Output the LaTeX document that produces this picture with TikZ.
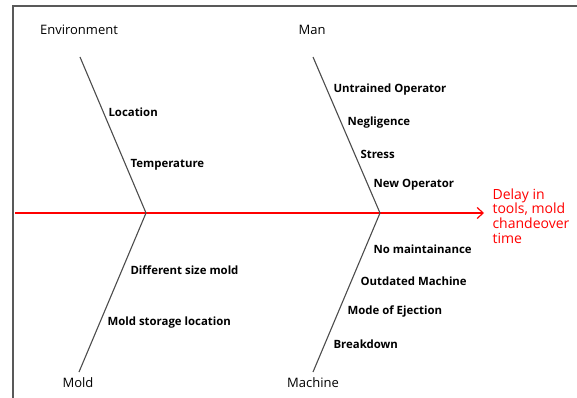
\documentclass[tikz,border=0pt]{standalone}
\usepackage{fontspec}
\setmainfont{Open Sans}
\usetikzlibrary{arrows.meta}

\begin{document}
\begin{tikzpicture}[x=1pt, y=-1pt, line width=1.1pt,
  bone/.style={draw=black!70, line width=1.1pt},
  spine/.style={draw=red, line width=1.2pt, -{Straight Barb[length=6pt, width=11pt]}},
  category/.style={font=\fontsize{13}{15}\selectfont, inner sep=0pt},
  cause/.style={font=\fontsize{11.4}{13}\selectfont\bfseries, anchor=west, inner sep=0pt},
  effect/.style={font=\fontsize{14}{14.7}\selectfont, text=red, align=left, anchor=west, inner sep=0pt}]
  \useasboundingbox (0,0) rectangle (577,398);
  \draw[draw=black!65, line width=2pt] (577,6) -- (13,6) -- (13,398);
  % spine and effect
  \coordinate (tail) at (15,213);
  \coordinate (head) at (484,213);
  \coordinate (joinL) at (146,213);
  \coordinate (joinR) at (380,213);
  \draw[spine] (tail) -- (head);
  \node[effect] (effect) at (492,216) {Delay in\\tools, mold\\chandeover\\time};
  % bones
  \coordinate (envend) at (80,57);
  \coordinate (manend) at (313,57);
  \coordinate (moldend) at (79,372);
  \coordinate (machend) at (313,372);
  \draw[bone] (envend) -- (joinL) -- (moldend);
  \draw[bone] (manend) -- (joinR) -- (machend);
  % categories
  \node[category] (env) at (79,30) {Environment};
  \node[category] (man) at (312,30) {Man};
  \node[category] (mold) at (78,383) {Mold};
  \node[category] (mach) at (313,383) {Machine};
  % causes
  \node[cause] (location) at (108,112) {Location};
  \node[cause] (temp) at (130,165) {Temperature};
  \node[cause] (untrained) at (333,90) {Untrained Operator};
  \node[cause] (neglig) at (347,123) {Negligence};
  \node[cause] (stress) at (360,154) {Stress};
  \node[cause] (newop) at (373,185) {New Operator};
  \node[cause] (diffsize) at (130,270) {Different size mold};
  \node[cause] (storage) at (107,323) {Mold storage location};
  \node[cause] (nomaint) at (373,249) {No maintainance};
  \node[cause] (outdated) at (360,281) {Outdated Machine};
  \node[cause] (ejection) at (347,312) {Mode of Ejection};
  \node[cause] (breakdown) at (333,344) {Breakdown};
\end{tikzpicture}
\end{document}
